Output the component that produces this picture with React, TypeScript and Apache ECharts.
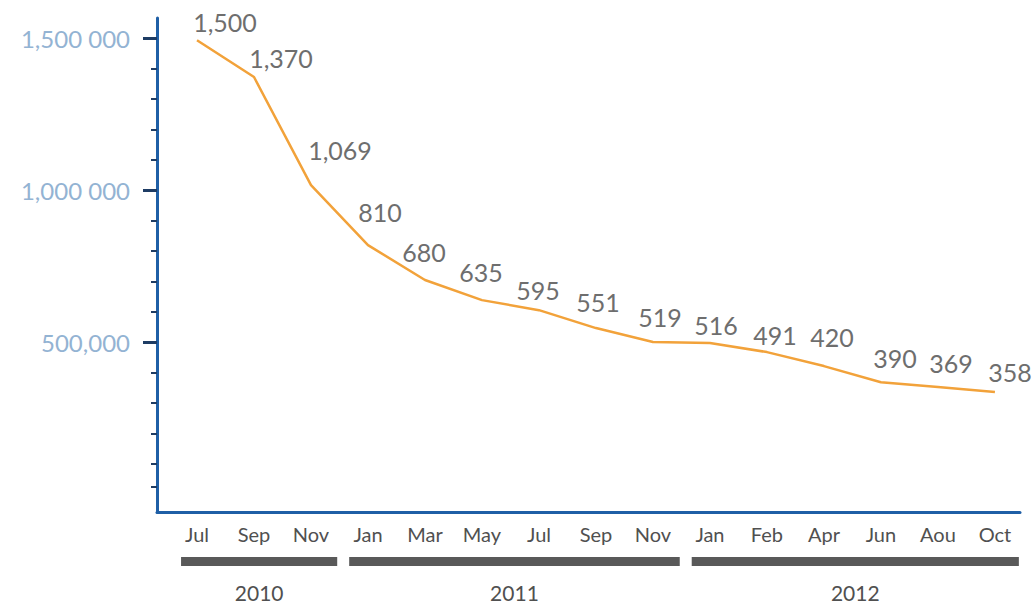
import React, { useEffect, useRef } from "react";
import * as echarts from "echarts";

const monthLabels = ["Jul", "Sep", "Nov", "Jan", "Mar", "May", "Jul", "Sep", "Nov", "Jan", "Feb", "Apr", "Jun", "Aou", "Oct"];
const seriesValues = [1493000, 1372000, 1016000, 819000, 704000, 638000, 605000, 546000, 500000, 497000, 467000, 421000, 368000, 352000, 336000];
const dataLabels = ["1,500", "1,370", "1,069", "810", "680", "635", "595", "551", "519", "516", "491", "420", "390", "369", "358"];
const yMajorValues = [500000, 1000000, 1500000];
const yMajorLabels = ["500,000", "1,000 000", "1,500 000"];
const yMinorValues = [25000, 100000, 200000, 300000, 400000, 500000, 600000, 700000, 800000, 900000, 1000000, 1100000, 1200000, 1300000, 1400000, 1500000];
const years = ["2010", "2011", "2012"];
const yearFrom = [-0.28, 2.67, 8.68];
const yearTo = [2.46, 8.47, 14.42];

// label layout (pixel offsets from each point), kept apart from the data
const labelOffsets = [
  [28, -18], [27, -19], [29, -35], [12, -33], [-1, -28], [-1, -28], [-1, -20], [2, -26],
  [7, -25], [6, -18], [8, -17], [8, -29], [14, -24], [13, -24], [15, -20],
];

const FONT = "Lato, 'Open Sans', sans-serif";

export default function App() {
  const ref = useRef<HTMLDivElement>(null);
  useEffect(() => {
    document.body.style.margin = "0";
    if (!ref.current) return;
    const chart = echarts.init(ref.current, null, { renderer: "svg" });
    const yMin = -59000;
    const yMax = 1566000;
    chart.setOption({
      animation: false,
      backgroundColor: "#ffffff",
      grid: { left: 157, right: 14, top: 18, bottom: 91 },
      xAxis: {
        type: "value",
        min: -0.702,
        max: 14.44,
        splitLine: { show: false },
        axisLine: { show: true, onZero: false, lineStyle: { color: "#1f5fa6", width: 3 } },
        axisTick: { show: false },
        axisLabel: {
          customValues: monthLabels.map((_, i) => i),
          formatter: (v: number) => monthLabels[Math.round(v)] ?? "",
          color: "#505050",
          fontSize: 20,
          fontFamily: FONT,
          margin: 12,
        },
      },
      yAxis: [
        {
          type: "value",
          min: yMin,
          max: yMax,
          position: "left",
          splitLine: { show: false },
          axisLine: { show: true, onZero: false, lineStyle: { color: "#1f5fa6", width: 3 } },
          axisTick: {
            show: true,
            customValues: yMinorValues,
            length: 6,
            lineStyle: { color: "#1e3c64", width: 2 },
          },
          axisLabel: { show: false },
        },
        {
          type: "value",
          min: yMin,
          max: yMax,
          position: "left",
          splitLine: { show: false },
          axisLine: { show: false, onZero: false },
          axisTick: {
            show: true,
            customValues: yMajorValues,
            length: 14,
            lineStyle: { color: "#1e3c64", width: 3 },
          },
          axisLabel: {
            customValues: yMajorValues,
            formatter: (v: number) => {
              const i = yMajorValues.indexOf(v);
              return i >= 0 ? yMajorLabels[i] : "";
            },
            color: "#93b3d3",
            fontSize: 24,
            fontFamily: FONT,
            margin: 27,
          },
        },
      ],
      series: [
        {
          type: "line",
          yAxisIndex: 0,
          data: seriesValues.map((v, i) => ({
            value: [i, v],
            label: { offset: labelOffsets[i] },
          })),
          symbol: "circle",
          symbolSize: 0.1,
          showSymbol: true,
          lineStyle: { color: "#f2a23a", width: 2.5 },
          itemStyle: { color: "#f2a23a" },
          label: {
            show: true,
            position: "inside",
            formatter: (p: any) => dataLabels[p.dataIndex],
            color: "#6e6e6e",
            fontSize: 25,
            fontFamily: FONT,
            align: "center",
            verticalAlign: "middle",
          },
          silent: true,
          z: 3,
        },
        {
          type: "custom",
          yAxisIndex: 0,
          clip: false,
          silent: true,
          data: years.map((_, i) => [yearFrom[i], yearTo[i], 0, i]),
          encode: { x: [0, 1], y: 2 },
          renderItem: (params: any, api: any) => {
            const s = api.coord([api.value(0), 0]);
            const e = api.coord([api.value(1), 0]);
            const cs = params.coordSys;
            const bottom = cs.y + cs.height;
            const idx = api.value(3);
            return {
              type: "group",
              children: [
                {
                  type: "rect",
                  shape: { x: s[0], y: bottom + 45, width: e[0] - s[0], height: 9 },
                  style: { fill: "#595959" },
                },
                {
                  type: "text",
                  x: (s[0] + e[0]) / 2,
                  y: bottom + 80,
                  style: {
                    text: years[idx],
                    fill: "#505050",
                    font: `21px ${FONT}`,
                    align: "center",
                    verticalAlign: "middle",
                  },
                },
              ],
            };
          },
        },
      ],
    });
    return () => chart.dispose();
  }, []);
  return <div ref={ref} style={{ width: 1034, height: 603 }} />;
}
